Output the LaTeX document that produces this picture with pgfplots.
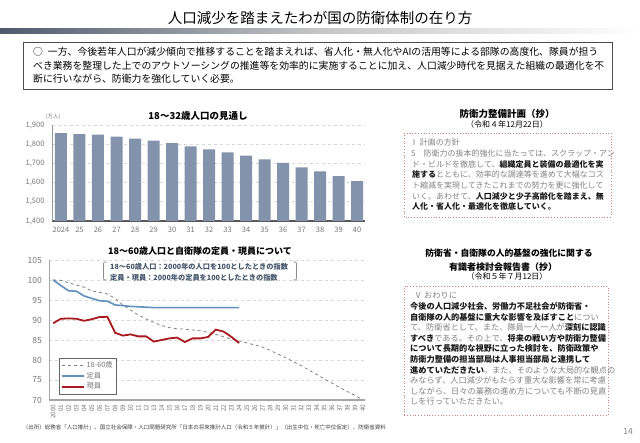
\documentclass[border=0pt]{standalone}
\usepackage{fontspec}
\setmainfont{Noto Sans CJK JP}
\usepackage{pgfplots}
\pgfplotsset{compat=1.18}
\definecolor{barc}{RGB}{131,147,171}
\definecolor{bluec}{RGB}{94,145,190}
\definecolor{redc}{RGB}{168,26,30}
\definecolor{dashc}{RGB}{130,130,130}
\definecolor{gridc}{RGB}{215,215,215}
\definecolor{tickc}{RGB}{120,120,120}
\definecolor{txtg}{RGB}{130,130,130}
\definecolor{txtb}{RGB}{25,25,25}
\definecolor{dotc}{RGB}{205,125,130}
\definecolor{annc}{RGB}{68,84,106}
\definecolor{gradL}{RGB}{78,90,110}
\newcommand{\fs}[1]{\fontsize{#1}{#1}\selectfont}
\newcommand{\B}[1]{{\bfseries\color{txtb}#1}}
\begin{document}
\begin{tikzpicture}[x=1pt,y=1pt]
\path[use as bounding box, fill=white] (0,0) rectangle (640,443);
% title
\node[anchor=center] at (320,425) {\fs{14.5}人口減少を踏まえたわが国の防衛体制の在り方};
\shade[left color=gradL, right color=white, middle color=gray!45] (0,409) rectangle (640,414);
% text box
\draw[gray!60!black, line width=0.8pt, fill=white] (23,353.7) rectangle (612,401);
\node[anchor=base west, inner sep=0pt] at (33,387) {\fs{9.85}○\hspace{0.5em}一方、今後若年人口が減少傾向で推移することを踏まえれば、省人化・無人化やAIの活用等による部隊の高度化、隊員が担う};
\node[anchor=base west, inner sep=0pt] at (33,373.5) {\fs{9.85}べき業務を整理した上でのアウトソーシングの推進等を効率的に実施することに加え、人口減少時代を見据えた組織の最適化を不};
\node[anchor=base west, inner sep=0pt] at (33,360) {\fs{9.85}断に行いながら、防衛力を強化していく必要。};

% ---------------- bar chart ----------------
\node at (198,327) {\fs{9.5}\bfseries 18～32歳人口の見通し};
\node[text=tickc] at (53,326) {\fs{5.5}(万人)};
\begin{axis}[at={(52pt,222pt)}, anchor=south west, scale only axis,
  width=313pt, height=96pt,
  ymin=1400, ymax=1900, xmin=-0.486, xmax=16.43,
  ytick={1400,1500,...,1900},
  xtick={0,...,16},
  xticklabels={2024,25,26,27,28,29,30,31,32,33,34,35,36,37,38,39,40},
  ymajorgrids, grid style={dashed, gridc, line width=0.6pt},
  major tick length=0pt,
  axis x line*=bottom, axis y line*=left,
  x axis line style={draw=black!65, line width=1.3pt, -},
  y axis line style={draw=black!40, line width=0.7pt, -},
  /pgf/number format/assume math mode=true,
  /pgf/number format/1000 sep={,},
  yticklabel style={font=\fs{7.5}, text=tickc, xshift=-4pt},
  xticklabel style={font=\fs{7.5}, text=tickc, yshift=-3pt},
  clip=false]
\addplot[ybar, bar width=12pt, fill=barc, draw=none] coordinates {
(0,1858) (1,1853) (2,1850) (3,1839) (4,1829) (5,1818) (6,1805) (7,1789) (8,1773)
(9,1758) (10,1740) (11,1721) (12,1703) (13,1679) (14,1659) (15,1634) (16,1608)};
\end{axis}

% ---------------- line chart ----------------
\node at (200,192) {\fs{9}\bfseries 18～60歳人口と自衛隊の定員・現員について};
\begin{axis}[at={(49.3pt,43pt)}, anchor=south west, scale only axis,
  width=316pt, height=140pt,
  ymin=70, ymax=105, xmin=-0.5, xmax=40.3,
  ytick={70,75,...,105},
  xtick={0,...,40},
  xticklabels={2000,01,02,03,04,05,06,07,08,09,10,11,12,13,14,15,16,17,18,19,20,21,22,23,24,25,26,27,28,29,30,31,32,33,34,35,36,37,38,39,40},
  ymajorgrids, grid style={dashed, gridc, line width=0.6pt},
  major tick length=0pt,
  axis x line*=bottom, axis y line*=left,
  x axis line style={draw=black!35, line width=2pt, -},
  y axis line style={draw=black!35, line width=1pt, -},
  /pgf/number format/assume math mode=true,
  yticklabel style={font=\fs{8.5}, text=tickc, xshift=-4pt},
  xticklabel style={font=\fs{6.3}, text=tickc, rotate=90, anchor=east, xshift=-1pt},
  legend style={at={(0.031,0.30)}, anchor=north west, draw=black!60, fill=white,
    font=\fs{7.3}\color{tickc}, row sep=-1pt, inner sep=1.5pt, line width=0.6pt},
  legend cell align=left,
  legend image code/.code={\draw[#1] (0pt,0pt) -- (22pt,0pt);},
  clip=false]
\addplot[dashc, dashed, line width=0.8pt] coordinates {
(0,100) (1,99.9) (2,99.3) (3,98.75) (4,98.2) (5,97.25) (6,96.9) (7,96.5) (8,95.4) (9,93.75)
(10,92.5) (11,91.25) (12,90.25) (13,89.4) (14,88.6) (15,88.1) (16,87.8) (17,87.7) (18,87.5) (19,87.3)
(20,86.9) (21,86.4) (22,85.8) (23,85.25) (24,84.75) (25,84.3) (26,83.75) (27,83.25) (28,82.4) (29,81.5)
(30,80.6) (31,79.6) (32,78.6) (33,77.5) (34,76.4) (35,75.3) (36,74.2) (37,73.1) (38,72.1) (39,71.1) (40,70)};
\addlegendentry{18-60歳}
\addplot[bluec, line width=1.6pt] coordinates {
(0,100) (1,98.6) (2,97.3) (3,97.2) (4,96.0) (5,95.4) (6,94.8) (7,94.7) (8,93.75) (9,93.6)
(10,93.4) (11,93.3) (12,93.2) (13,93.1) (14,93.1) (15,93.1) (16,93.1) (17,93.1) (18,93.1) (19,93.1)
(20,93.1) (21,93.1) (22,93.1) (23,93.1) (24,93.1)};
\addlegendentry{定員}
\addplot[redc, line width=1.8pt] coordinates {
(0,89.2) (1,90.3) (2,90.4) (3,90.3) (4,89.8) (5,90.2) (6,90.75) (7,90.8) (8,86.8) (9,86.1)
(10,86.4) (11,85.9) (12,85.9) (13,84.6) (14,85.0) (15,85.4) (16,85.6) (17,84.5) (18,85.4) (19,85.4)
(20,85.75) (21,87.6) (22,87.1) (23,85.8) (24,84.25)};
\addlegendentry{現員}
\end{axis}
% annotation brackets
\draw[black!45, line width=0.7pt] (107,181) .. controls (103.5,181) .. (103.5,177.5) -- (103.5,166.5) .. controls (103.5,163) .. (107,163);
\draw[black!45, line width=0.7pt] (293,181) .. controls (296.5,181) .. (296.5,177.5) -- (296.5,166.5) .. controls (296.5,163) .. (293,163);
\node[anchor=west, inner sep=0pt, text=annc] at (110,176) {\fs{7.2}\bfseries 18～60歳人口：2000年の人口を100としたときの指数};
\node[anchor=west, inner sep=0pt, text=annc] at (110,165.5) {\fs{7.2}\bfseries 定員・現員：2000年の定員を100としたときの指数};
% source
\node[anchor=west, inner sep=0pt, text=black!75] at (22.7,15.3) {\fs{5.5}（出所）総務省「人口推計」、国立社会保障・人口問題研究所「日本の将来推計人口（令和５年推計）」（出生中位・死亡中位仮定）、防衛省資料};

% ---------------- right panels ----------------
\node at (507,329) {\fs{9.5}\bfseries 防衛力整備計画（抄）};
\node at (507,319) {\fs{8}（令和４年12月22日）};
\draw[dotc, line width=0.8pt, dotted] (404,226) rectangle (611,310);
\begin{scope}[every node/.style={anchor=base west, inner sep=0pt, text=txtg, font=\fs{8}}]
\node at (410,297) {Ⅰ 計画の方針};
\node at (411,286.3) {5　防衛力の抜本的強化に当たっては、スクラップ・アン};
\node at (412,275.7) {ド・ビルドを徹底して、\B{組織定員と装備の最適化を実}};
\node at (412,265) {\B{施する}とともに、効率的な調達等を進めて大幅なコス};
\node at (412,254.3) {ト縮減を実現してきたこれまでの努力を更に強化して};
\node at (412,243.7) {いく。あわせて、\B{人口減少と少子高齢化を踏まえ、無}};
\node at (412,233) {\B{人化・省人化・最適化を徹底していく。}};
\end{scope}

\node at (509,189.7) {\fs{8.8}\bfseries 防衛省・自衛隊の人的基盤の強化に関する};
\node at (503,176.3) {\fs{9}\bfseries 有識者検討会報告書（抄）};
\node at (507,166.3) {\fs{8}（令和５年７月12日）};
\draw[dotc, line width=0.8pt, dotted] (404,28) rectangle (608,156.3);
\begin{scope}[every node/.style={anchor=base west, inner sep=0pt, text=txtg, font=\fs{8.2}}]
\node at (414,144) {Ⅴ おわりに};
\node at (410,133.4) {\B{今後の人口減少社会、労働力不足社会が防衛省・}};
\node at (410,122.8) {\B{自衛隊の人的基盤に重大な影響を及ぼすこと}につい};
\node at (410,112.2) {て、防衛省として、また、隊員一人一人が\B{深刻に認識}};
\node at (410,101.6) {\B{すべき}である。その上で、\B{将来の戦い方や防衛力整備}};
\node at (410,91) {\B{について長期的な視野に立った検討を、防衛政策や}};
\node at (410,80.4) {\B{防衛力整備の担当部局は人事担当部局と連携して}};
\node at (410,69.8) {\B{進めていただきたい}。また、そのような大局的な観点の};
\node at (410,59.2) {みならず、人口減少がもたらす重大な影響を常に考慮};
\node at (410,48.6) {しながら、日々の業務の進め方についても不断の見直};
\node at (410,38) {しを行っていただきたい。};
\end{scope}
\node[text=txtg] at (628,12) {\fs{8.5}14};
\end{tikzpicture}
\end{document}
